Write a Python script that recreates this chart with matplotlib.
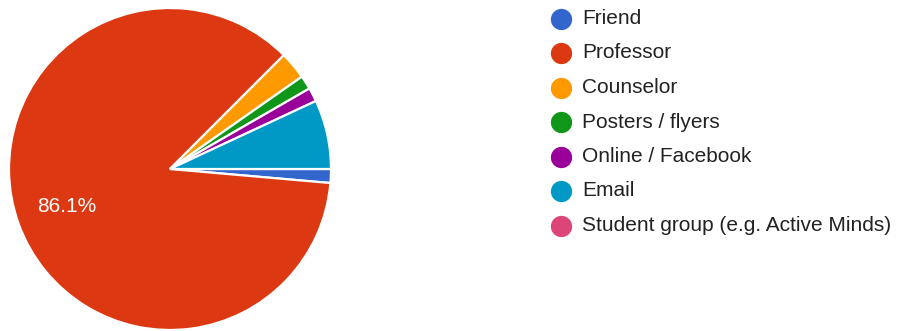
import matplotlib
matplotlib.use("Agg")
import matplotlib.pyplot as plt

categories = ["Friend", "Professor", "Counselor", "Posters / flyers",
              "Online / Facebook", "Email", "Student group (e.g. Active Minds)"]
counts = [1, 62, 2, 1, 1, 5, 0]
colors = ["#3366cc", "#dc3912", "#ff9900", "#109618", "#990099", "#0099c6", "#dd4477"]

plt.rcParams["font.family"] = ["Liberation Sans", "DejaVu Sans"]

W, H = 906, 331
fig = plt.figure(figsize=(W / 100, H / 100), dpi=100)
ax = fig.add_axes([0, 0, 1, 1])


def pct_label(p):
    # only the large slices carry a percentage
    return f"{p:.1f}%" if p >= 10 else ""


pie_vals = [c for c in counts if c > 0]
pie_cols = [col for c, col in zip(counts, colors) if c > 0]
ax.pie(
    pie_vals, colors=pie_cols, startangle=0, counterclock=False,
    center=(170, H - 169), radius=161, autopct=pct_label, pctdistance=0.68,
    wedgeprops=dict(edgecolor="white", linewidth=1.6),
    textprops=dict(color="white", fontsize=15),
    frame=True,
)
ax.set_xlim(0, W)
ax.set_ylim(0, H)
ax.set_aspect("equal")
ax.axis("off")

# legend with round markers
x_dot, x_txt = 561, 582
y0, dy = 18.5, 34.5
for i, (lab, col) in enumerate(zip(categories, colors)):
    y = H - (y0 + i * dy)
    ax.scatter([x_dot], [y], s=235, color=col, linewidths=0, zorder=3)
    ax.text(x_txt, y, lab, fontsize=15, color="#222222", va="center", ha="left")

fig.savefig("out.png", dpi=100)
